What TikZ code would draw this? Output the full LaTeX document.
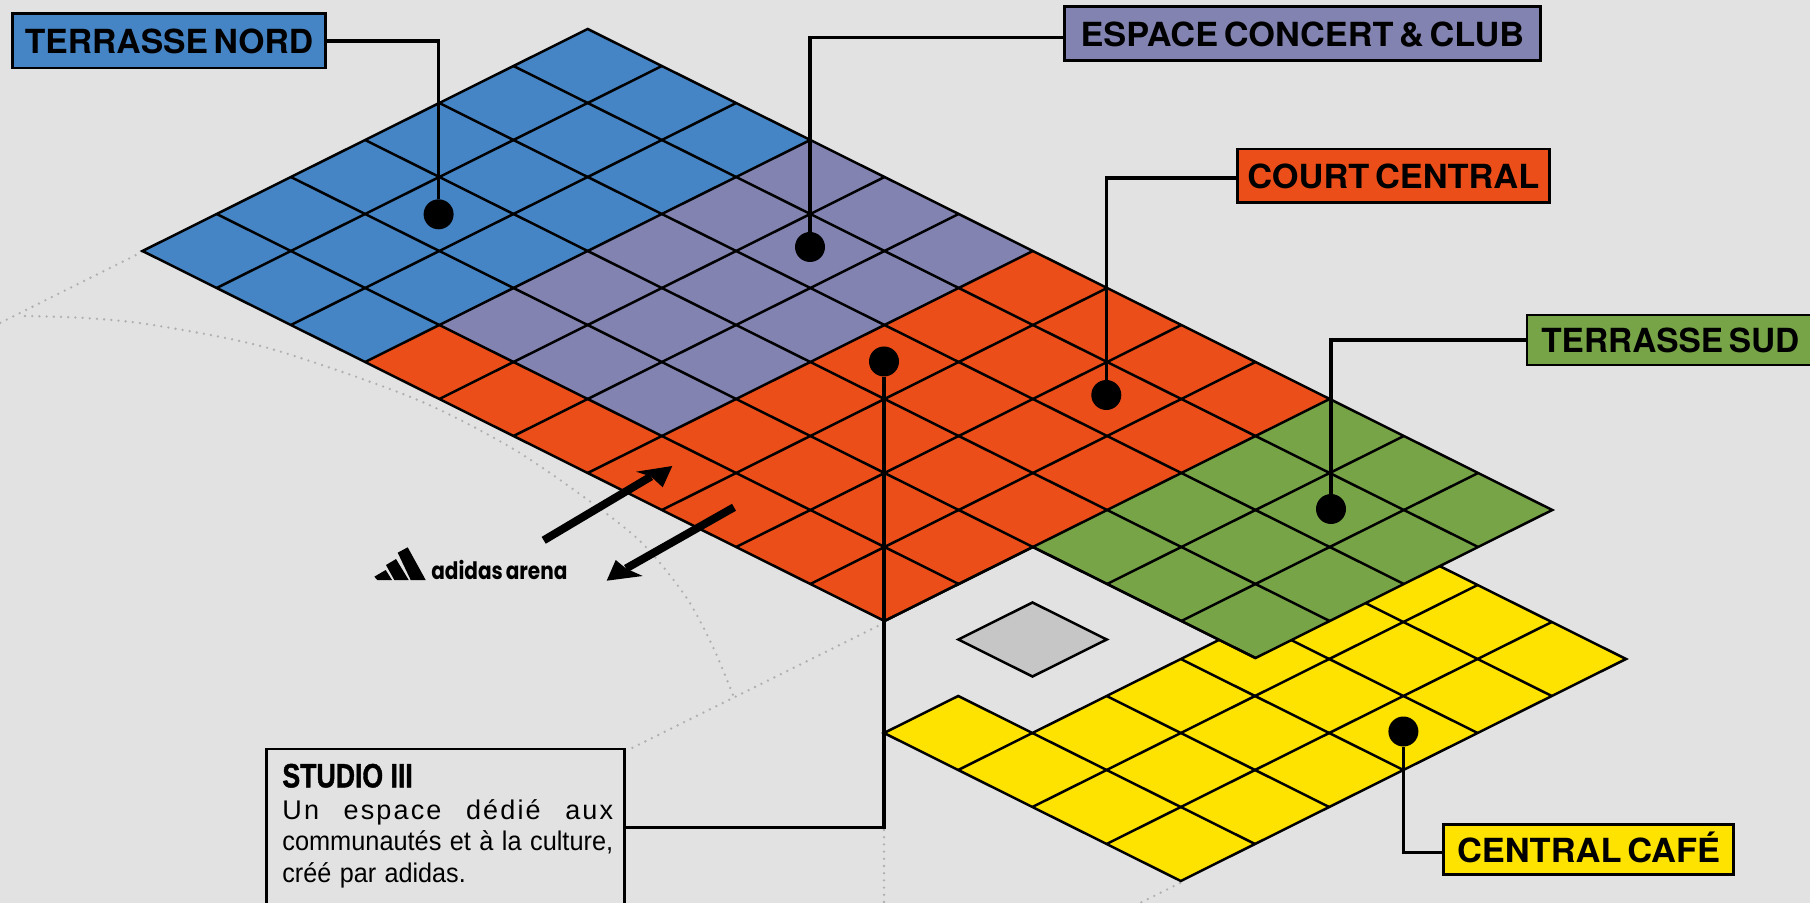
\documentclass[tikz,border=0pt]{standalone}
\usepackage{fontspec}
\usepackage{graphicx}
\setmainfont{Liberation Sans}
\newfontfamily\labelfont[WordSpace=0.6]{TeX Gyre Heros}
\newfontfamily\logofont[WordSpace=0.7]{Poppins}
\newfontfamily\bodyspaced[LetterSpace=8]{Liberation Sans}
\newfontfamily\bodytight[WordSpace=0.55]{Liberation Sans}
\newfontfamily\titlefont[BoldFeatures={FakeBold=1.5},WordSpace=1]{Liberation Sans}
\definecolor{bgc}{HTML}{E2E2E2}
\definecolor{blueC}{HTML}{4585C5}
\definecolor{purpleC}{HTML}{8283B0}
\definecolor{redC}{HTML}{EC4E1A}
\definecolor{greenC}{HTML}{78A448}
\definecolor{yellowC}{HTML}{FFE300}
\definecolor{greyC}{HTML}{C6C6C6}
\definecolor{dotC}{HTML}{B0B0B0}
\newcommand{\fitw}[2]{\resizebox{#1pt}{\height}{#2}}
\tikzset{
  cell/.style={draw=black,line width=1.25pt,line join=miter},
  gridl/.style={draw=black,line width=1.25pt},
  faint/.style={draw=dotC,line width=1.3pt,line cap=round,dash pattern=on 0pt off 3.6pt},
  lead/.style={draw=black,line width=1.6pt},
  tag/.style={draw=black,line width=1.4pt,inner sep=0pt,text height=13pt,text depth=0pt,
    font=\labelfont\bfseries\fontsize{16.6pt}{18pt}\selectfont},
  pin/.style={circle,fill=black,inner sep=0pt,minimum size=15pt},
  flow/.style={draw=black,line width=4pt},
  flowhead/.style={fill=black}
}
\begin{document}
\begin{tikzpicture}[x=0.5pt,y=-0.5pt]
\useasboundingbox (0,0) rectangle (1810,903);
\clip (0,0) rectangle (1810,903);
\fill[bgc] (0,0) rectangle (1810,903);
% faint dotted guides
\coordinate (gL) at (142,252);
\coordinate (gLe) at (0,323);
\coordinate (gB) at (884,623);
\coordinate (gBe) at (628,750);
\coordinate (gV) at (884,830);
\coordinate (gVe) at (884,903);
\coordinate (gY) at (1180,883);
\coordinate (gYe) at (1140,903);
\draw[faint] (gL) -- (gLe);
\draw[faint] (gB) -- (gBe);
\draw[faint] (gV) -- (gVe);
\draw[faint] (gY) -- (gYe);
\draw[faint] plot[smooth] coordinates {(25,316) (85,318) (153,325) (268,348) (413,398) (510,447) (588,500) (642,543) (686,597) (713,647) (733,695)};
% yellow floor
\begin{scope}[shift={(884,733)},x={(37.1pt,-18.5pt)},y={(37.1pt,18.5pt)}]
  \filldraw[cell,fill=yellowC] (0,0)--(4,0)--(4,6)--(1,6)--(1,1)--(0,1)--cycle;
  \foreach \a in {2,3} \draw[gridl] (\a,0)--(\a,6);
  \draw[gridl] (1,0)--(1,1);
  \foreach \b in {2,3,4,5} \draw[gridl] (1,\b)--(4,\b);
  \draw[gridl] (1,1)--(4,1);
\end{scope}
% grey diamond
\filldraw[cell,fill=greyC] (1032.5,602.5)--(1106.7,639.5)--(1032.5,676.5)--(958.3,639.5)--cycle;
% main floor
\begin{scope}[shift={(142.5,251)},x={(37.1pt,-18.5pt)},y={(37.1pt,18.5pt)}]
  \fill[blueC] (0,0)--(3,0)--(3,6)--(0,6)--cycle;
  \fill[purpleC] (3,1)--(6,1)--(6,6)--(3,6)--cycle;
  \fill[redC] (3,0)--(10,0)--(10,6)--(6,6)--(6,1)--(3,1)--cycle;
  \fill[greenC] (10,2)--(13,2)--(13,6)--(10,6)--cycle;
  \foreach \i in {1,...,10} \draw[gridl] (\i,0)--(\i,6);
  \foreach \i in {11,12} \draw[gridl] (\i,2)--(\i,6);
  \draw[gridl] (0,1)--(10,1);
  \foreach \j in {2,3,4,5} \draw[gridl] (0,\j)--(13,\j);
  \draw[cell] (10,0)--(0,0)--(0,6)--(13,6)--(13,2)--(10,2)--(10,0)--cycle;
\end{scope}
% arrows
\coordinate (a1s) at (543.7,540.3);
\coordinate (a1n) at (651,476.5);
\coordinate (a1t) at (672.3,466);
\coordinate (a1w) at (636,471.7);
\coordinate (a1v) at (662.7,487.3);
\coordinate (a2s) at (734,507.3);
\coordinate (a2n) at (626,568.5);
\coordinate (a2t) at (606.7,580.7);
\coordinate (a2w) at (615.7,560);
\coordinate (a2v) at (642.7,576);
\draw[flow] (a1s) -- (a1n);
\fill[flowhead] (a1t) -- (a1w) -- (a1n) -- (a1v) -- cycle;
\draw[flow] (a2s) -- (a2n);
\fill[flowhead] (a2t) -- (a2w) -- (a2n) -- (a2v) -- cycle;
% adidas logo
\fill[black] (374.3,576.7)--(385.7,570)--(392,580)--(377.3,580)--cycle;
\fill[black] (386,565)--(396,559)--(408.7,580)--(394.3,580)--cycle;
\fill[black] (397.7,552.7)--(407.7,547.3)--(425.7,580)--(410.7,580)--cycle;
\node[anchor=base west,inner sep=0pt,font=\logofont\bfseries\fontsize{12pt}{14pt}\selectfont] (logo) at (431,580) {\fitw{68}{adidas arena}};
% tags
\node[tag,fill=blueC,minimum width=156.8pt,minimum height=27.1pt] (tn) at (169,41) {\fitw{144.2}{TERRASSE NORD}};
\node[tag,fill=purpleC,minimum width=238pt,minimum height=27.1pt] (ec) at (1302.3,33.8) {\fitw{221.8}{ESPACE CONCERT \& CLUB}};
\node[tag,fill=redC,minimum width=156pt,minimum height=26.8pt] (cc) at (1393.3,175.8) {\fitw{146}{COURT CENTRAL}};
\node[tag,fill=greenC,minimum width=143.3pt,minimum height=25pt] (ts) at (1670.3,340) {\fitw{129}{TERRASSE SUD}};
\node[tag,fill=yellowC,minimum width=144.8pt,minimum height=24.8pt] (cf) at (1588.5,849.5) {\fitw{131.5}{CENTRAL CAFÉ}};
% studio box
\node[draw=black,line width=1.4pt,inner sep=0pt,minimum width=178.8pt,minimum height=78.2pt,fill=bgc] (st) at (445.5,827.2) {};
\node[anchor=base west,inner sep=0pt,font=\titlefont\bfseries\fontsize{16.8pt}{18pt}\selectfont] (sttitle) at (282,787.3) {\fitw{65.2}{STUDIO III}};
\node[anchor=north west,inner sep=0pt,align=left,text width=166pt,font=\bodytight\fontsize{13.5pt}{15.85pt}\selectfont] (stbody) at (282,799)
 {\makebox[165.4pt][l]{\bodyspaced Un\hfill espace\hfill dédié\hfill aux}\\
  \fitw{165.4}{communautés et à la culture,}\\
  \fitw{91.7}{créé par adidas.}};
% pins and leaders
\node[pin] (p1) at (438.6,214.3) {};
\node[pin] (p2) at (810,247) {};
\node[pin] (p3) at (1106.3,395) {};
\node[pin] (p4) at (1331,509) {};
\node[pin] (p5) at (1403.4,731.5) {};
\node[pin] (p6) at (884,361.5) {};
\draw[lead] (tn.east) -| (p1);
\draw[lead] ([yshift=-1.85pt]ec.west) -| (p2);
\draw[lead] ([yshift=-1.1pt]cc.west) -| (p3);
\draw[lead] (ts.west) -| (p4);
\draw[lead] ([yshift=-1.6pt]cf.west) -| (p5);
\draw[lead] (st.east) -| (p6);
\end{tikzpicture}
\end{document}
